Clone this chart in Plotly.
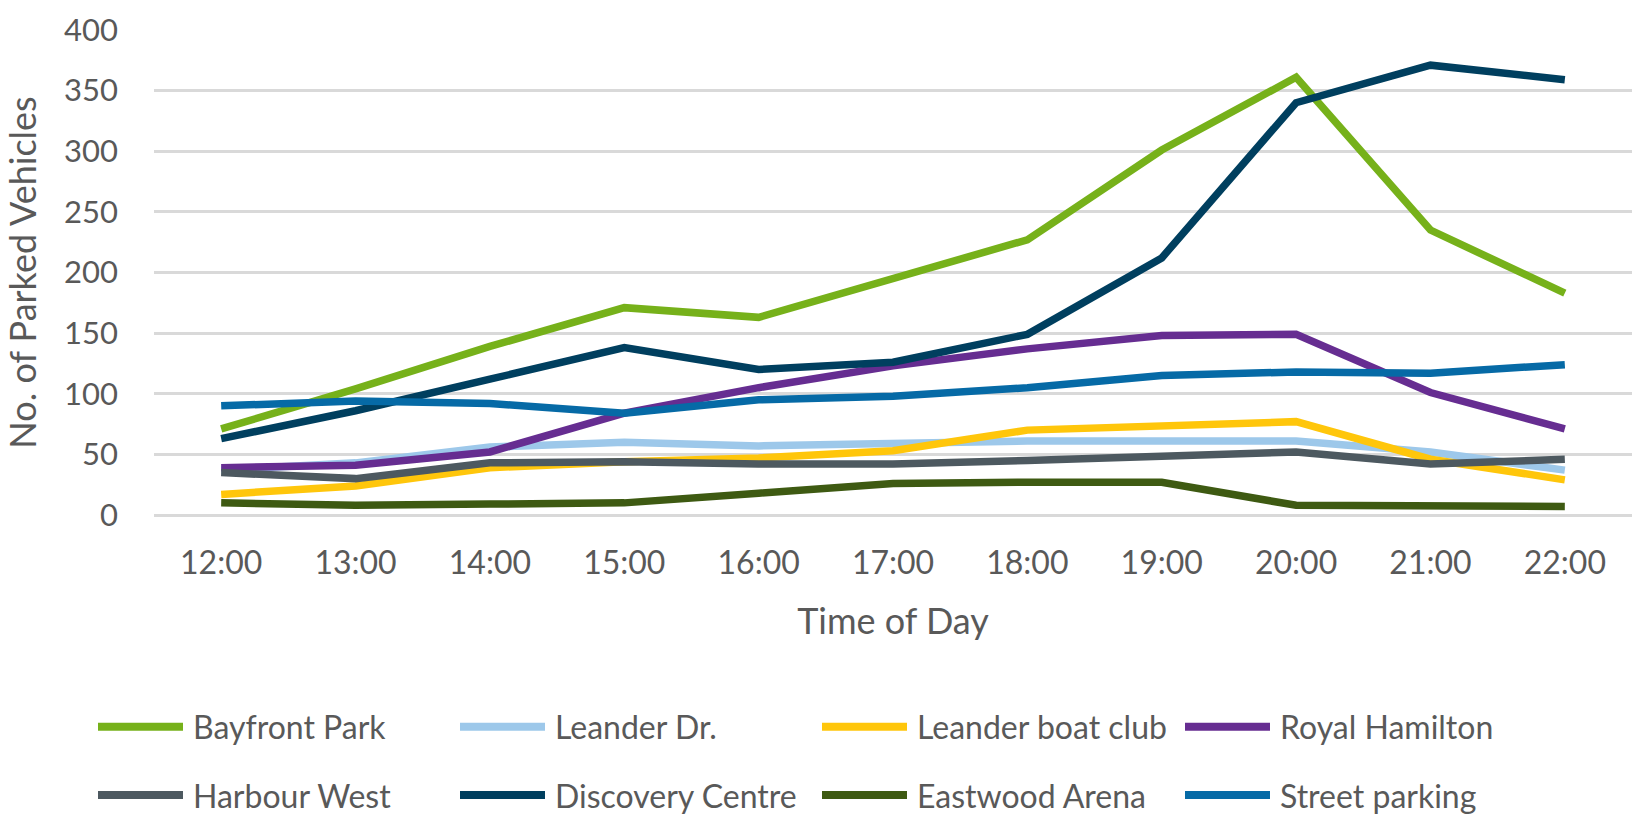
import plotly.graph_objects as go

# Hourly counts of parked vehicles per location
times = ["12:00", "13:00", "14:00", "15:00", "16:00", "17:00",
         "18:00", "19:00", "20:00", "21:00", "22:00"]

bayfront_park = [71, 104, 139, 171, 163, 195, 227, 301, 361, 235, 183]
leander_dr = [37, 43, 56, 60, 57, 59, 61, 61, 61, 52, 37]
leander_boat_club = [17, 24, 39, 44, 47, 53, 70, 74, 77, 46, 29]
royal_hamilton = [39, 41, 52, 84, 105, 123, 137, 148, 149, 101, 71]
harbour_west = [35, 30, 43, 44, 42, 42, 45, 49, 52, 42, 46]
discovery_centre = [63, 86, 112, 138, 120, 126, 149, 212, 340, 371, 359]
eastwood_arena = [10, 8, 9, 10, 18, 26, 27, 27, 8, 7, 7]
street_parking = [90, 94, 92, 84, 95, 98, 105, 115, 118, 117, 124]

series = [
    ("Bayfront Park", bayfront_park, "#76B11A"),
    ("Leander Dr.", leander_dr, "#9DC8EA"),
    ("Leander boat club", leander_boat_club, "#FFC60B"),
    ("Royal Hamilton", royal_hamilton, "#662D91"),
    ("Harbour West", harbour_west, "#4D5960"),
    ("Discovery Centre", discovery_centre, "#003F5F"),
    ("Eastwood Arena", eastwood_arena, "#3E5A12"),
    ("Street parking", street_parking, "#066AA6"),
]

W, H = 1642, 822
ML, MR, MT, MB = 154, 10, 25, 307
PW, PH = W - ML - MR, H - MT - MB
FONT = "Lato"
TXT = "#595959"

fig = go.Figure()
for name, vals, col in series:
    fig.add_trace(go.Scatter(
        x=times, y=vals, name=name, mode="lines",
        line=dict(color=col, width=7.5), showlegend=False,
    ))

# Legend drawn as long line swatches with labels, two rows of four
leg_cols = [98, 460, 822, 1185]
leg_rows = [729, 798]
swatch = 85
gap = 8


def px_x(px):
    return (px - ML) / PW


def px_y(py):
    return (H - MB - py) / PH


for i, (name, vals, col) in enumerate(series):
    cx = leg_cols[i % 4]
    ry = leg_rows[i // 4]
    fig.add_shape(type="line", xref="paper", yref="paper",
                  x0=px_x(cx), x1=px_x(cx + swatch), y0=px_y(ry), y1=px_y(ry),
                  line=dict(color=col, width=8))
    fig.add_annotation(xref="paper", yref="paper", x=px_x(cx + swatch + gap),
                       y=px_y(ry), xanchor="left", yanchor="middle",
                       text=name, showarrow=False,
                       font=dict(family=FONT, size=32, color=TXT))

fig.update_layout(
    width=W, height=H,
    margin=dict(l=ML, r=MR, t=MT, b=MB),
    paper_bgcolor="white", plot_bgcolor="white",
    font=dict(family=FONT, size=31, color=TXT),
)
fig.update_xaxes(
    range=[-0.5, 10.5], showgrid=False, zeroline=False, showline=False,
    ticks="", ticklabelstandoff=26,
    tickfont=dict(family=FONT, size=32, color=TXT),
    title=dict(text="Time of Day", standoff=28,
               font=dict(family=FONT, size=36, color=TXT)),
)
fig.update_yaxes(
    range=[0, 400], dtick=50, showgrid=True, gridcolor="#D9D9D9", gridwidth=2.5,
    zeroline=True, zerolinecolor="#D9D9D9", zerolinewidth=2.5, showline=False,
    ticks="", ticklabelstandoff=35,
    tickfont=dict(family=FONT, size=31, color=TXT),
    title=dict(text="No. of Parked Vehicles", standoff=18,
               font=dict(family=FONT, size=36, color=TXT)),
)

fig.write_html("out.html")
